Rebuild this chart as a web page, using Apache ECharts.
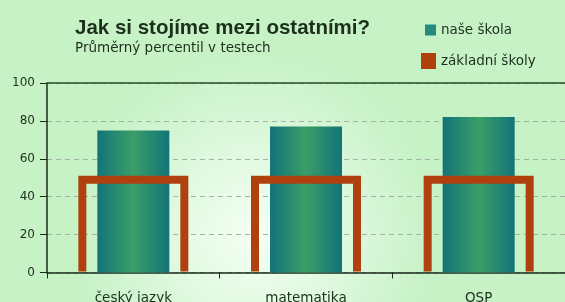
<!DOCTYPE html>
<html style="height: 100%">
<head>
<meta charset="utf-8">
</head>
<body style="height: 100%; margin: 0">
<div id="container" style="width: 565px; height: 302px"></div>
<script src="https://cdn.jsdelivr.net/npm/echarts@6/dist/echarts.min.js"></script>
<script type="text/javascript">
var categories = ['český jazyk', 'matematika', 'OSP'];
var naseSkola = [75, 77, 82];
var zakladniSkoly = [49, 49, 49];
var yTicks = [0, 20, 40, 60, 80, 100];

var chart = echarts.init(document.getElementById('container'));
var font = '"Liberation Sans", Arial, sans-serif';
var smallFont = '"DejaVu Sans", Verdana, sans-serif';
var textColor = '#1c301c';
var orange = '#b0400e';

// open box (no bottom edge) for the comparison series
function renderBox(params, api) {
    var top = api.coord([api.value(0), api.value(1)]);
    var base = api.coord([api.value(0), 0]);
    var half = 51;
    return {
        type: 'polyline',
        shape: {
            points: [
                [top[0] - half, base[1] - 1],
                [top[0] - half, top[1]],
                [top[0] + half, top[1]],
                [top[0] + half, base[1] - 1]
            ]
        },
        style: {fill: null, stroke: orange, lineWidth: 8, lineJoin: 'miter'}
    };
}

var option = {
    backgroundColor: new echarts.graphic.RadialGradient(0.45, 0.78, 0.6, [
        {offset: 0, color: '#f4fff4'},
        {offset: 0.55, color: '#dcf8dc'},
        {offset: 1, color: '#c6f2c6'}
    ]),
    textStyle: {fontFamily: font},
    title: {
        text: 'Jak si stojíme mezi ostatními?',
        subtext: 'Průměrný percentil v testech',
        left: 70,
        top: 13,
        itemGap: 2,
        textStyle: {fontSize: 20.5, fontWeight: 'bold', color: textColor, fontFamily: font},
        subtextStyle: {fontSize: 13.5, color: textColor, fontFamily: smallFont}
    },
    legend: [
        {
            data: [{name: 'naše škola', icon: 'rect', itemStyle: {color: '#258a7e'}}],
            left: 420, top: 18,
            itemWidth: 11, itemHeight: 11, itemGap: 10,
            textStyle: {fontSize: 13.5, color: textColor, fontFamily: smallFont}
        },
        {
            data: [{name: 'základní školy', icon: 'rect', itemStyle: {color: orange, borderWidth: 0}}],
            left: 416, top: 48,
            itemWidth: 15, itemHeight: 16, itemGap: 10,
            textStyle: {fontSize: 13.5, color: textColor, fontFamily: smallFont}
        }
    ],
    grid: {left: 47, right: 0, top: 83, bottom: 29.5, containLabel: false, outerBoundsMode: 'none'},
    xAxis: {
        type: 'category',
        data: categories,
        axisLine: {lineStyle: {color: '#1a2a1a', width: 1.5}},
        axisTick: {show: true, length: 6, lineStyle: {color: '#1a2a1a'}},
        axisLabel: {margin: 19, fontSize: 13.5, color: textColor, fontFamily: smallFont}
    },
    yAxis: {
        type: 'value',
        min: yTicks[0],
        max: yTicks[yTicks.length - 1],
        interval: 20,
        axisLine: {show: true, lineStyle: {color: '#1a2a1a', width: 1.5}},
        axisTick: {show: true, length: 7, lineStyle: {color: '#1a2a1a'}},
        axisLabel: {margin: 12, fontSize: 12, color: textColor, fontFamily: smallFont},
        splitLine: {lineStyle: {type: [5, 4], color: '#a4b4a4'}}
    },
    series: [
        {
            name: 'naše škola',
            type: 'bar',
            barWidth: 72,
            z: 2,
            itemStyle: {
                color: new echarts.graphic.LinearGradient(0, 0, 1, 0, [
                    {offset: 0, color: '#127478'},
                    {offset: 0.5, color: '#3a9e68'},
                    {offset: 1, color: '#127478'}
                ])
            },
            markLine: {
                silent: true,
                symbol: 'none',
                label: {show: false},
                lineStyle: {type: 'solid', color: '#2a4a2a', width: 1.5},
                data: [{yAxis: 100}]
            },
            data: naseSkola
        },
        {
            name: 'základní školy',
            type: 'custom',
            z: 3,
            renderItem: renderBox,
            itemStyle: {color: orange},
            data: zakladniSkoly.map(function (v, i) { return [i, v]; })
        }
    ]
};
chart.setOption(option);
</script>
</body>
</html>
